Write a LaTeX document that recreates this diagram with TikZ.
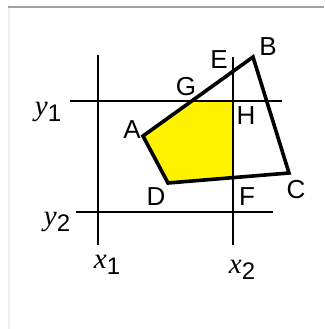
\documentclass[tikz,border=0pt]{standalone}
\usepackage{fontspec}
\setmainfont{Liberation Sans}
\newfontfamily\mathserif{Liberation Serif}
\newcommand{\axsub}[2]{{\mathserif\itshape #1}\raisebox{-0.4ex}{\fontsize{24}{24}\selectfont #2}}
\tikzset{
  grid/.style={line width=1.8pt, black},
  poly/.style={line width=3.6pt, black, line join=miter},
  lbl/.style={inner sep=0pt, font=\fontsize{26}{26}\selectfont},
  axl/.style={inner sep=0pt, font=\fontsize{29}{29}\selectfont}
}
\begin{document}
\begin{tikzpicture}[x=1pt,y=-1pt]
\useasboundingbox (0,0) rectangle (324,329);
\fill[white] (0,0) rectangle (324,329);
% frame
\fill[black!6] (8,5) rectangle (10,329);
\fill[black!37] (8,6) rectangle (324,8.5);
% coordinates
\coordinate (A) at (143,136);
\coordinate (B) at (253,57);
\coordinate (C) at (289,173);
\coordinate (D) at (168,183);
\coordinate (G) at (191.7,101);
\coordinate (E) at (233,71.4);
\coordinate (F) at (233,177.6);
\coordinate (H) at (233,101);
% clipped region
\fill[yellow] (G) -- (H) -- (F) -- (D) -- (A) -- cycle;
% grid lines
\coordinate (x1t) at (98,55);   \coordinate (x1b) at (98,245);
\coordinate (x2t) at (233,57);  \coordinate (x2b) at (233,245);
\coordinate (y1l) at (70,101);  \coordinate (y1r) at (282,101);
\coordinate (y2l) at (76,212);  \coordinate (y2r) at (273,212);
\draw[grid] (x1t) -- (x1b);
\draw[grid] (x2t) -- (x2b);
\draw[grid] (y1l) -- (y1r);
\draw[grid] (y2l) -- (y2r);
% polygon
\draw[poly] (A) -- (B) -- (C) -- (D) -- cycle;
% labels
\node[lbl] (lA) at (132,130) {A};
\node[lbl] (lB) at (268,47) {B};
\node[lbl] (lC) at (296,190) {C};
\node[lbl] (lD) at (156,197) {D};
\node[lbl] (lE) at (219,60) {E};
\node[lbl] (lF) at (247,197) {F};
\node[lbl] (lG) at (186,87) {G};
\node[lbl] (lH) at (246,116) {H};
\node[axl] (ly1) at (48,112) {\axsub{y}{1}};
\node[axl] (ly2) at (57,222) {\axsub{y}{2}};
\node[axl] (lx1) at (107,265) {\axsub{x}{1}};
\node[axl] (lx2) at (242,270) {\axsub{x}{2}};
\end{tikzpicture}
\end{document}
